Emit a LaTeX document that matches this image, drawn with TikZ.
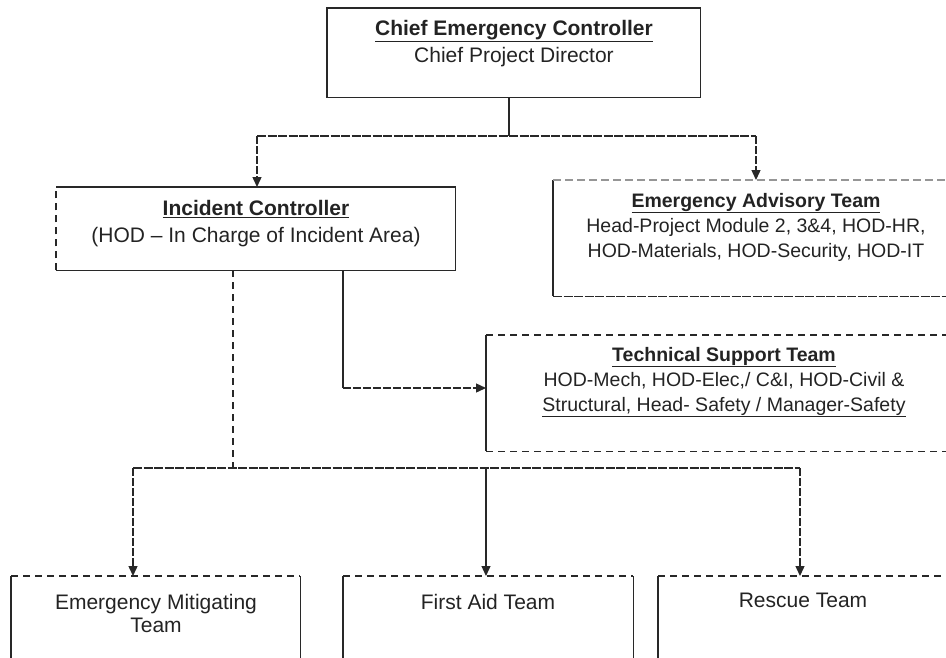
\documentclass[tikz,border=0pt]{standalone}
\usepackage{fontspec}
\setmainfont{Liberation Sans}
\usetikzlibrary{arrows.meta}
\definecolor{linec}{RGB}{40,40,40}
\definecolor{textc}{RGB}{35,35,35}
\definecolor{lightc}{RGB}{150,150,150}
\newcommand{\myul}[1]{\underline{#1}}
\begin{document}
\begin{tikzpicture}[x=1pt,y=-1pt,
  boxarea/.style={inner sep=0pt, draw=none, anchor=north west},
  solidedge/.style={draw=linec, line width=1.7pt},
  dashedge/.style={draw=linec, line width=1.7pt, dash pattern=on 7pt off 5pt},
  lightedge/.style={draw=lightc, line width=1.2pt, dash pattern=on 8pt off 4pt},
  conn/.style={draw=linec, line width=1.2pt},
  dconn/.style={draw=linec, line width=1.4pt, dash pattern=on 8pt off 2pt},
  fconn/.style={draw=linec, line width=1.3pt, dash pattern=on 9pt off 1.5pt},
  arr/.style={-{Triangle[length=10pt,width=9pt]}},
  bigtxt/.style={text=textc, align=center, font=\fontsize{21}{27}\selectfont},
  midtxt/.style={text=textc, align=center, font=\fontsize{19.5}{25}\selectfont},
  lowtxt/.style={text=textc, align=center, font=\fontsize{21}{23}\selectfont},
]
\useasboundingbox (0,0) rectangle (946,657);
\clip (0,0) rectangle (946,657);

% boxes
\node[boxarea, minimum width=373pt, minimum height=89pt] (chief) at (327,8) {};
\node[boxarea, minimum width=399pt, minimum height=83pt] (inc) at (56,187) {};
\node[boxarea, minimum width=406pt, minimum height=116pt] (adv) at (553,180) {};
\node[boxarea, minimum width=476pt, minimum height=116pt] (tech) at (486,335) {};
\node[boxarea, minimum width=289pt, minimum height=110pt] (emt) at (11,576) {};
\node[boxarea, minimum width=290pt, minimum height=110pt] (fat) at (343,576) {};
\node[boxarea, minimum width=290pt, minimum height=110pt] (rst) at (658,576) {};

% borders
\draw[solidedge] (chief.south west) rectangle (chief.north east);
\draw[solidedge] (inc.north west) -- (inc.north east) -- (inc.south east) -- (inc.south west);
\draw[dashedge] (inc.south west) -- (inc.north west);
\draw[solidedge] (adv.north west) -- (adv.south west);
\draw[lightedge] (adv.north west) -- (adv.north east);
\draw[fconn] (adv.south west) -- (adv.south east);
\draw[solidedge, line width=2.2pt] (tech.north west) -- (tech.south west);
\draw[dashedge] (tech.north west) -- (tech.north east);
\draw[dashedge] (tech.south west) -- (tech.south east);
\foreach \b in {emt,fat,rst}{
  \draw[dashedge] (\b.north west) -- (\b.north east);
  \draw[conn] (\b.north west) -- (\b.south west);
  \draw[conn] (\b.north east) -- (\b.south east);
}

% texts
\node[bigtxt] (chieft) at (514,43.5) {\myul{\textbf{Chief Emergency Controller}}\\Chief Project Director};
\node[bigtxt] (inct) at (256,223.5) {\myul{\textbf{Incident Controller}}\\(HOD -- In Charge of Incident Area)};
\node[midtxt] (advt) at (756,227) {\myul{\textbf{Emergency Advisory Team}}\\Head-Project Module 2, 3\&4, HOD-HR,\\HOD-Materials, HOD-Security, HOD-IT};
\node[midtxt] (techt) at (724,382) {\myul{\textbf{Technical Support Team}}\\HOD-Mech, HOD-Elec,/ C\&I, HOD-Civil \&\\\myul{Structural, Head- Safety / Manager-Safety}};
\node[lowtxt] (emtt) at (156,613.5) {Emergency Mitigating\\Team};
\node[lowtxt] (fatt) at (488,602) {First Aid Team};
\node[lowtxt] (rstt) at (803,600) {Rescue Team};

% connector points
\coordinate (j1) at (509,136);
\coordinate (l1) at (257,136);
\coordinate (r1) at (756,136);
\coordinate (t1) at (343,388);
\coordinate (b0) at (233,468);
\coordinate (bl) at (133,468);
\coordinate (bm) at (486,468);
\coordinate (br) at (800,468);

% top connectors
\draw[conn] (chief.south -| j1) -- (j1);
\draw[fconn] (l1) -- (r1);
\draw[dconn, arr] (l1) -- (inc.north -| l1);
\draw[dconn, arr] (r1) -- (adv.north -| r1);

% incident to technical support
\draw[conn] (inc.south -| t1) -- (t1);
\draw[dconn, arr] (t1) -- (tech.west |- t1);

% incident to teams
\draw[dashedge] (inc.south -| b0) -- (b0);
\draw[fconn] (bl) -- (br);
\draw[dconn, arr] (bl) -- (emt.north -| bl);
\draw[conn, arr] (bm) -- (fat.north -| bm);
\draw[dconn, arr] (br) -- (rst.north -| br);
\end{tikzpicture}
\end{document}
